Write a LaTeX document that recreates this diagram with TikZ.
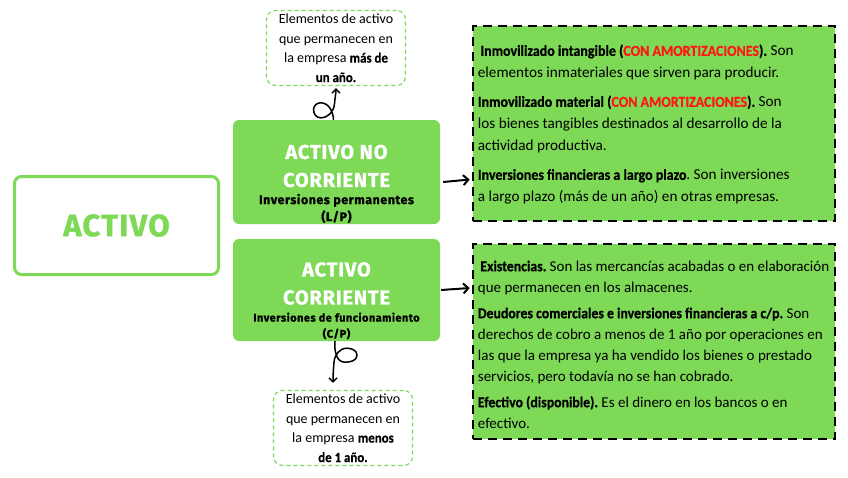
\documentclass[tikz,border=0pt]{standalone}
\usepackage{fontspec}
\setmainfont{Carlito}[BoldFeatures={FakeStretch=0.92,FakeBold=0.6}]
\newfontfamily\headfont{Fira Sans}[LetterSpace=4,BoldFeatures={FakeBold=1}]
\usetikzlibrary{arrows.meta,calc}
\definecolor{actgreen}{HTML}{7ED957}
\definecolor{actred}{HTML}{FF1616}
\newcommand{\amort}{(\textcolor{actred}{CON AMORTIZACIONES})}

\begin{document}
\frenchspacing
\begin{tikzpicture}[x=1pt,y=1pt,
    mainbox/.style={draw=actgreen,line width=3pt,rounded corners=7pt,fill=white,
      minimum width=204pt,minimum height=98pt,text=actgreen,
      font=\headfont\bfseries\fontsize{31}{36}\selectfont},
    greenbox/.style={fill=actgreen,rounded corners=6pt,minimum width=207pt,minimum height=104pt},
    boxtitle/.style={text=white,align=center,inner sep=0pt,
      font=\headfont\bfseries\fontsize{20}{28}\selectfont},
    boxsub/.style={text=black,align=center,inner sep=0pt,
      font=\headfont\bfseries\fontsize{12.5}{17}\selectfont},
    notebox/.style={draw=actgreen,line width=1.2pt,dash pattern=on 4pt off 3pt,
      rounded corners=9pt,minimum width=139pt,minimum height=75pt,align=center,
      inner sep=2pt,font=\fontsize{14}{19.5}\selectfont},
    infobox/.style={fill=actgreen,draw=black,line width=2.6pt,dash pattern=on 9pt off 6pt,
      minimum width=362pt,minimum height=195pt},
    infotext/.style={anchor=west,inner sep=0pt,align=left,
      font=\fontsize{15.2}{22}\selectfont},
    big arrow/.style={line width=2pt,-{Straight Barb[length=5pt,width=10pt]}},
    loop arrow/.style={line width=1.5pt,-{Straight Barb[length=4pt,width=8pt]}}]

  \useasboundingbox (0,0) rectangle (848,-477);

  % left block
  \node[mainbox] (activo) at (116.5,-225.5) {ACTIVO};

  % green boxes
  \node[greenbox] (anc) at (336.5,-172) {};
  \node[boxtitle] (anctitle) at (336.5,-166) {ACTIVO NO\\CORRIENTE};
  \node[boxsub] (ancsub) at (336.5,-208.5) {Inversiones permanentes\\(L/P)};

  \node[greenbox,minimum height=102pt] (ac) at (336.5,-290) {};
  \node[boxtitle] (actitle) at (336.5,-283.5) {ACTIVO\\CORRIENTE};
  \node[boxsub,font=\headfont\bfseries\fontsize{11}{16}\selectfont] (acsub) at (336.5,-326)
    {Inversiones de funcionamiento\\(C/P)};

  % notes
  \node[notebox] (largo) at (336,-48) {Elementos de activo\\que permanecen en\\
    la empresa \textbf{más de}\\\textbf{un año.}};
  \node[notebox] (corto) at (343,-428) {Elementos de activo\\que permanecen en\\
    la empresa \textbf{menos}\\\textbf{de 1 año.}};

  % right boxes
  \node[infobox] (nocorr) at (654,-123.5) {};
  \node[infotext] (nocorrtxt) at ($(nocorr.west)+(6,-1)$) {%
    \,\textbf{Inmovilizado intangible \amort.} Son\\
    elementos inmateriales que sirven para producir.\\[7pt]
    \textbf{Inmovilizado material \amort.} Son\\
    los bienes tangibles destinados al desarrollo de la\\
    actividad productiva.\\[7pt]
    \textbf{Inversiones financieras a largo plazo}. Son inversiones\\
    a largo plazo (más de un año) en otras empresas.};
  \node[infobox] (corr) at (654,-341.5) {};
  \node[infotext,font=\fontsize{15}{21}\selectfont] (corrtxt) at ($(corr.west)+(6,-3)$) {%
    \,\textbf{Existencias.} Son las mercancías acabadas o en elaboración\\
    que permanecen en los almacenes.\\[5pt]
    \textbf{Deudores comerciales  e inversiones financieras a c/p.} Son\\
    derechos de cobro a menos de 1 año por operaciones en\\
    las que la empresa ya ha vendido los bienes o prestado\\
    servicios, pero todavía no se han cobrado.\\[5pt]
    \textbf{Efectivo (disponible).} Es el dinero en los bancos o en\\
    efectivo.};

  % arrows
  \draw[loop arrow,shorten >=2pt] ([xshift=-3pt]anc.north) to[out=92,in=0] ++(-13,17)
    to[out=180,in=90] ++(-7,-7) to[out=-90,in=180] ++(7,-8)
    to[out=0,in=-95] ++(14,14) to[out=85,in=-90] (largo.south);
  \draw[loop arrow,shorten >=7pt] ([xshift=-1.5pt]ac.south) to[out=-95,in=180] ++(10,-21)
    to[out=0,in=-90] ++(12,7) to[out=90,in=0] ++(-10,7)
    to[out=180,in=85] ++(-13,-14) to[out=-95,in=90] ([xshift=-10pt]corto.north);
  \draw[big arrow] ($(anc.east)+(3,-10)$) -- ($(nocorr.west)+(-2,-56)$);
  \draw[big arrow] ($(ac.east)+(1,0)$) -- ($(corr.west)+(-2,53.5)$);
\end{tikzpicture}
\end{document}
